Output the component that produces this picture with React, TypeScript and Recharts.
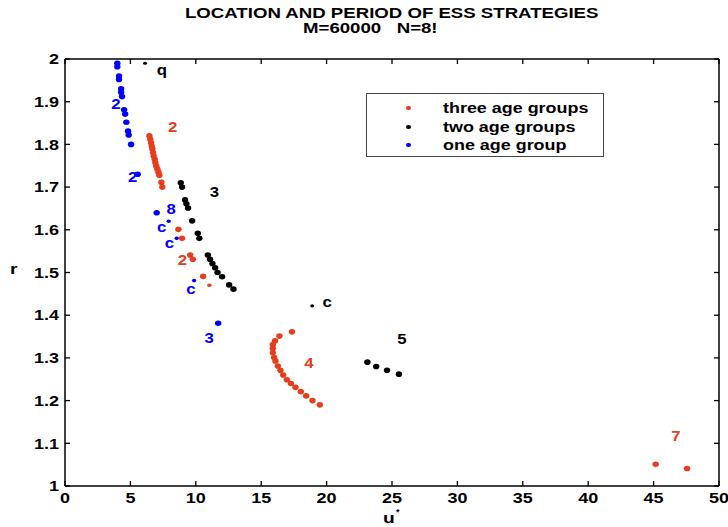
import { ScatterChart, Scatter, XAxis, YAxis } from 'recharts';

const RED = '#e63d1c';
const BLACK = '#000000';
const BLUE = '#0000ff';
const FONT = '"Liberation Sans", Arial, sans-serif';

// u* and r
const threeAge = [
  { u: 6.45, r: 1.82 }, { u: 6.52, r: 1.812 }, { u: 6.58, r: 1.804 }, { u: 6.63, r: 1.796 },
  { u: 6.68, r: 1.789 }, { u: 6.73, r: 1.781 }, { u: 6.78, r: 1.773 }, { u: 6.86, r: 1.765 },
  { u: 6.91, r: 1.757 }, { u: 6.98, r: 1.749 }, { u: 7.06, r: 1.742 }, { u: 7.14, r: 1.735 },
  { u: 7.21, r: 1.728 }, { u: 7.37, r: 1.711 }, { u: 7.44, r: 1.7 },
  { u: 8.67, r: 1.601 }, { u: 8.95, r: 1.58 }, { u: 9.57, r: 1.541 }, { u: 9.77, r: 1.531 },
  { u: 10.56, r: 1.491 },
  { u: 17.35, r: 1.361 }, { u: 16.39, r: 1.351 }, { u: 16.06, r: 1.34 }, { u: 15.89, r: 1.331 },
  { u: 15.89, r: 1.322 }, { u: 15.89, r: 1.312 }, { u: 15.99, r: 1.301 }, { u: 16.09, r: 1.293 },
  { u: 16.27, r: 1.281 }, { u: 16.47, r: 1.271 }, { u: 16.68, r: 1.26 }, { u: 16.96, r: 1.249 },
  { u: 17.27, r: 1.24 }, { u: 17.62, r: 1.231 }, { u: 18.03, r: 1.221 }, { u: 18.44, r: 1.211 },
  { u: 18.92, r: 1.2 }, { u: 19.48, r: 1.19 },
  { u: 45.16, r: 1.051 }, { u: 47.56, r: 1.041 },
];
const threeAgeCycle = [{ u: 11.04, r: 1.47 }];

const twoAge = [
  { u: 8.85, r: 1.71 }, { u: 8.95, r: 1.7 }, { u: 9.18, r: 1.67 }, { u: 9.28, r: 1.661 },
  { u: 9.41, r: 1.651 }, { u: 9.72, r: 1.621 }, { u: 10.15, r: 1.592 }, { u: 10.27, r: 1.58 },
  { u: 10.92, r: 1.541 }, { u: 11.09, r: 1.531 }, { u: 11.27, r: 1.521 }, { u: 11.48, r: 1.511 },
  { u: 11.66, r: 1.5 }, { u: 12.01, r: 1.49 }, { u: 12.55, r: 1.471 }, { u: 12.88, r: 1.461 },
  { u: 23.12, r: 1.29 }, { u: 23.79, r: 1.28 }, { u: 24.62, r: 1.271 }, { u: 25.53, r: 1.262 },
];
const twoAgeCycle = [{ u: 6.12, r: 1.99 }, { u: 18.9, r: 1.422 }];

const oneAge = [
  { u: 4.0, r: 1.99 }, { u: 4.0, r: 1.982 }, { u: 4.13, r: 1.96 }, { u: 4.13, r: 1.952 },
  { u: 4.29, r: 1.93 }, { u: 4.29, r: 1.922 }, { u: 4.36, r: 1.912 }, { u: 4.52, r: 1.881 },
  { u: 4.6, r: 1.871 }, { u: 4.69, r: 1.852 }, { u: 4.82, r: 1.831 }, { u: 4.87, r: 1.822 },
  { u: 5.05, r: 1.8 }, { u: 5.56, r: 1.73 }, { u: 7.01, r: 1.64 }, { u: 11.71, r: 1.381 },
];
const oneAgeCycle = [{ u: 7.93, r: 1.62 }, { u: 8.54, r: 1.58 }, { u: 9.87, r: 1.481 }];

// period annotations
const redNotes = [
  { u: 8.24, r: 1.84, text: '2' }, { u: 8.98, r: 1.529, text: '2' },
  { u: 18.64, r: 1.287, text: '4' }, { u: 46.7, r: 1.118, text: '7' },
];
const blackNotes = [
  { u: 7.4, r: 1.973, text: 'q' }, { u: 11.43, r: 1.688, text: '3' },
  { u: 20.04, r: 1.43, text: 'c' }, { u: 25.76, r: 1.344, text: '5' },
];
const blueNotes = [
  { u: 3.9, r: 1.895, text: '2' }, { u: 5.17, r: 1.724, text: '2' },
  { u: 8.11, r: 1.649, text: '8' }, { u: 7.4, r: 1.606, text: 'c' },
  { u: 7.99, r: 1.57, text: 'c' }, { u: 9.62, r: 1.461, text: 'c' },
  { u: 11.02, r: 1.347, text: '3' },
];

const xTicks = [0, 5, 10, 15, 20, 25, 30, 35, 40, 45, 50];
const yTicks = [1, 1.1, 1.2, 1.3, 1.4, 1.5, 1.6, 1.7, 1.8, 1.9, 2];

const legendItems = [
  { label: 'three age groups', color: RED },
  { label: 'two age groups', color: BLACK },
  { label: 'one age group', color: BLUE },
];

// the original figure is stretched sideways; text is widened to match
const WIDE = 1.28;
const AXIS = { stroke: '#000', strokeWidth: 1.5 };

const dot = (color: string, r: number) => (p: any) => (
  <ellipse cx={p.cx} cy={p.cy} rx={r + 0.4} ry={r} fill={color} />
);

const note = (color: string) => (p: any) => (
  <text transform={`translate(${p.cx},${p.cy}) scale(1.2,1)`} dy="0.35em" textAnchor="middle" fill={color}
    fontFamily={FONT} fontWeight="bold" fontSize={14}>
    {p.payload.text}
  </text>
);

const BottomTick = ({ x, y, payload }: any) => (
  <g>
    <line x1={x} y1={y} x2={x} y2={y - 5} stroke="#000" strokeWidth={1.3} />
    <text transform={`translate(${x},${y + 17}) scale(1.2,1)`} textAnchor="middle" fontFamily={FONT} fontWeight="bold" fontSize={15} fill="#000">
      {payload.value}
    </text>
  </g>
);
const TopTick = ({ x, y }: any) => <line x1={x} y1={y} x2={x} y2={y + 5} stroke="#000" strokeWidth={1.3} />;
const LeftTick = ({ x, y, payload }: any) => (
  <g>
    <line x1={x} y1={y} x2={x + 5} y2={y} stroke="#000" strokeWidth={1.3} />
    <text transform={`translate(${x - 6},${y}) scale(1.2,1)`} dy="0.35em" textAnchor="end" fontFamily={FONT} fontWeight="bold" fontSize={15} fill="#000">
      {payload.value}
    </text>
  </g>
);
const RightTick = ({ x, y }: any) => <line x1={x} y1={y} x2={x - 5} y2={y} stroke="#000" strokeWidth={1.3} />;

const wide = (k: number): any => ({ display: 'inline-block', transform: `scaleX(${k})`, transformOrigin: 'left center', whiteSpace: 'nowrap' });

const LegendBox = () => (
  <div style={{ position: 'absolute', left: 366, top: 93, width: 236, height: 62, border: '1px solid #444', background: '#fff', fontFamily: FONT }}>
    {legendItems.map((it, i) => (
      <div key={it.label} style={{ position: 'absolute', left: 0, top: 5 + i * 18.5, height: 18, display: 'flex', alignItems: 'center' }}>
        <span style={{ display: 'inline-block', width: 5, height: 4, borderRadius: 3, background: it.color, marginLeft: 39 }} />
        <span style={{ marginLeft: 32, fontWeight: 'bold', fontSize: 14, color: '#000', ...wide(WIDE) }}>{it.label}</span>
      </div>
    ))}
  </div>
);

export default function App() {
  return (
    <div style={{ position: 'absolute', left: 0, top: 0, width: 728, height: 527, background: '#fff', fontFamily: FONT }}>
      <ScatterChart width={728} height={527} margin={{ top: 0, right: 0, bottom: 0, left: 0 }}>
        <XAxis dataKey="u" type="number" domain={[0, 50]} ticks={xTicks} interval={0} height={41}
          axisLine={AXIS} tickLine={false} tickSize={0} tickMargin={0} tick={<BottomTick />} />
        <XAxis xAxisId="top" orientation="top" dataKey="u" type="number" domain={[0, 50]} ticks={xTicks} interval={0} height={59}
          axisLine={AXIS} tickLine={false} tickSize={0} tickMargin={0} tick={<TopTick />} />
        <YAxis dataKey="r" type="number" domain={[1, 2]} ticks={yTicks} interval={0} width={65}
          axisLine={AXIS} tickLine={false} tickSize={0} tickMargin={0} tick={<LeftTick />} />
        <YAxis yAxisId="right" orientation="right" dataKey="r" type="number" domain={[1, 2]} ticks={yTicks} interval={0} width={9}
          axisLine={AXIS} tickLine={false} tickSize={0} tickMargin={0} tick={<RightTick />} />
        <Scatter name="three age groups" data={threeAge} shape={dot(RED, 2.8)} isAnimationActive={false} />
        <Scatter name="three age groups c" data={threeAgeCycle} shape={dot(RED, 1.8)} isAnimationActive={false} />
        <Scatter name="two age groups" data={twoAge} shape={dot(BLACK, 2.8)} isAnimationActive={false} />
        <Scatter name="two age groups c" data={twoAgeCycle} shape={dot(BLACK, 1.6)} isAnimationActive={false} />
        <Scatter name="one age group" data={oneAge} shape={dot(BLUE, 2.8)} isAnimationActive={false} />
        <Scatter name="one age group c" data={oneAgeCycle} shape={dot(BLUE, 1.8)} isAnimationActive={false} />
        <Scatter data={redNotes} xAxisId="top" yAxisId="right" shape={note(RED)} isAnimationActive={false} />
        <Scatter data={blackNotes} xAxisId="top" yAxisId="right" shape={note(BLACK)} isAnimationActive={false} />
        <Scatter data={blueNotes} xAxisId="top" yAxisId="right" shape={note(BLUE)} isAnimationActive={false} />
      </ScatterChart>
      <div style={{ position: 'absolute', left: 0, width: 728, top: 6, fontWeight: 'bold', fontSize: 14, lineHeight: '15px' }}>
        <div style={{ position: 'absolute', left: 185, top: 0, ...wide(1.33) }}>LOCATION AND PERIOD OF ESS STRATEGIES</div>
        <div style={{ position: 'absolute', left: 303, top: 15, ...wide(1.33) }}>M=60000&nbsp;&nbsp;&nbsp;N=8!</div>
      </div>
      <LegendBox />
      <div style={{ position: 'absolute', left: 10, top: 260, fontWeight: 'bold', fontSize: 15, ...wide(WIDE) }}>r</div>
      <div style={{ position: 'absolute', left: 383, top: 510, fontWeight: 'bold', fontSize: 15, lineHeight: '15px', ...wide(WIDE) }}>u</div>
      <div style={{ position: 'absolute', left: 396, top: 508, fontWeight: 'bold', fontSize: 9, lineHeight: '9px' }}>*</div>
    </div>
  );
}
